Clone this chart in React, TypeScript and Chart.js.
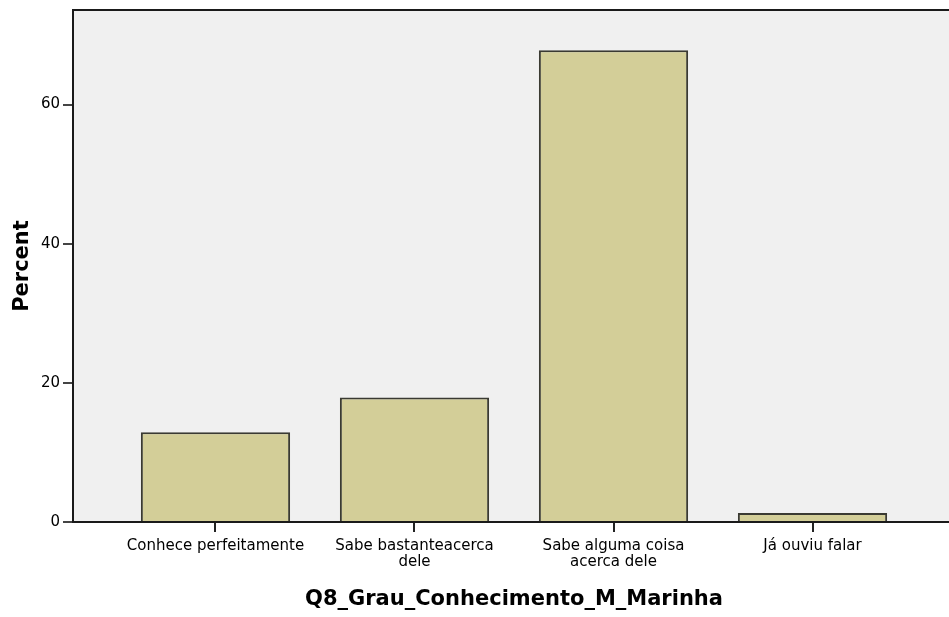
import React, { useEffect, useRef } from "react";
import { Chart, registerables } from "chart.js";

Chart.register(...registerables);

const categories: (string | string[])[] = [
  "Conhece perfeitamente",
  ["Sabe bastanteacerca", "dele"],
  ["Sabe alguma coisa", "acerca dele"],
  "Já ouviu falar",
];
const percentValues: number[] = [12.9, 17.9, 67.8, 1.3];
const yTickValues: number[] = [0, 20, 40, 60];
const xTitle = "Q8_Grau_Conhecimento_M_Marinha";
const yTitle = "Percent";

const FONT = "'DejaVu Sans', Verdana, sans-serif";

const framePlugin = {
  id: "frame",
  beforeDatasetsDraw(chart: any) {
    const { ctx, chartArea } = chart;
    ctx.save();
    ctx.fillStyle = "#F0F0F0";
    ctx.fillRect(chartArea.left, chartArea.top, chartArea.right - chartArea.left, chartArea.bottom - chartArea.top);
    ctx.strokeStyle = "#1a1a1a";
    ctx.lineWidth = 2;
    ctx.strokeRect(chartArea.left, chartArea.top, chartArea.right - chartArea.left, chartArea.bottom - chartArea.top);
    ctx.restore();
  },
};

export default function App() {
  const ref = useRef<HTMLCanvasElement | null>(null);
  useEffect(() => {
    if (!ref.current) return;
    const points = percentValues.map((v, i) => ({ x: i, y: v }));
    const chart = new Chart(ref.current, {
      type: "bar",
      data: {
        datasets: [
          {
            data: points as any,
            backgroundColor: "#D3CE98",
            borderColor: "#3a3a32",
            borderWidth: 2,
            barPercentage: 0.75,
            categoryPercentage: 1,
          },
        ],
      },
      options: {
        animation: false,
        responsive: false,
        maintainAspectRatio: false,
        layout: { padding: { top: 0, right: 1, left: 0, bottom: 0 } },
        plugins: { legend: { display: false }, tooltip: { enabled: false } },
        scales: {
          x: {
            type: "linear",
            min: -0.716,
            max: 3.716,
            offset: false,
            grid: {
              offset: false,
              drawOnChartArea: false,
              drawTicks: true,
              tickLength: 10,
              color: "#222",
              lineWidth: 2,
            },
            border: { display: true, color: "#1a1a1a", width: 2 },
            afterBuildTicks(scale: any) {
              scale.ticks = categories.map((_, i) => ({ value: i }));
            },
            ticks: {
              color: "#000",
              padding: 6,
              maxRotation: 0,
              autoSkip: false,
              callback: (v: any) => categories[Math.round(Number(v))] as any,
              font: { family: FONT, size: 15, lineHeight: 1.08 },
            },
            title: {
              display: true,
              text: xTitle,
              color: "#000",
              font: { family: FONT, size: 21, weight: "bold" },
              padding: { top: 0, bottom: 5 },
            },
            afterFit(scale: any) {
              scale.height = 95;
            },
          },
          y: {
            min: 0,
            max: 73.6,
            grid: {
              drawOnChartArea: false,
              drawTicks: true,
              tickLength: 10,
              color: "#444",
              lineWidth: 2,
            },
            border: { display: true, color: "#1a1a1a", width: 2 },
            afterBuildTicks(scale: any) {
              scale.ticks = yTickValues.map((v) => ({ value: v }));
            },
            ticks: {
              color: "#000",
              padding: 3,
              font: { family: FONT, size: 15 },
            },
            title: {
              display: true,
              text: yTitle,
              color: "#000",
              font: { family: FONT, size: 21, weight: "bold" },
              padding: { top: 10, bottom: 0 },
            },
            afterFit(scale: any) {
              scale.width = 73;
              scale.paddingTop = 10;
            },
          },
        },
      },
      plugins: [framePlugin],
    });
    return () => chart.destroy();
  }, []);

  return (
    <div style={{ position: "fixed", left: 0, top: 0, width: 949, height: 617, overflow: "hidden", background: "#fff" }}>
      <canvas ref={ref} width={956} height={617} style={{ width: 956, height: 617, display: "block" }} />
    </div>
  );
}
